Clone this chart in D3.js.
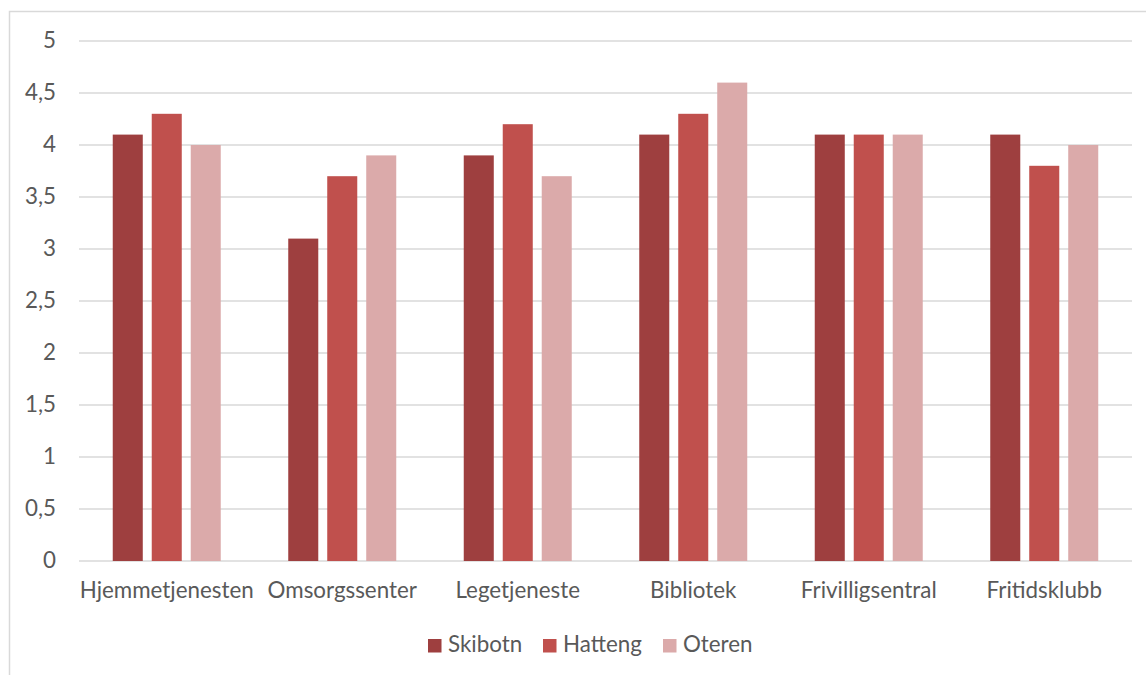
<!DOCTYPE html>
<html><head><meta charset="utf-8">
<script src="https://cdn.jsdelivr.net/npm/d3@7/dist/d3.min.js"></script>
<style>body{margin:0;background:#fff;} svg{display:block;}</style>
</head><body>
<svg id="c" width="1146" height="675"></svg>
<script>
const categories = ["Hjemmetjenesten","Omsorgssenter","Legetjeneste","Bibliotek","Frivilligsentral","Fritidsklubb"];
const seriesNames = ["Skibotn","Hatteng","Oteren"];
const skibotn = [4.1, 3.1, 3.9, 4.1, 4.1, 4.1];
const hatteng = [4.3, 3.7, 4.2, 4.3, 4.1, 3.8];
const oteren  = [4.0, 3.9, 3.7, 4.6, 4.1, 4.0];
const yTicks = [0,0.5,1,1.5,2,2.5,3,3.5,4,4.5,5];
const colors = ["#9E3F3F","#C0504D","#DBAAAA"];
const seriesValues = [skibotn, hatteng, oteren];

const svg = d3.select("#c");
const font = "Lato, 'Open Sans', sans-serif";

// fit font size so that the first category label matches the reference width
const probe = svg.append("text").attr("font-family",font).attr("font-size",100).text(categories[0]);
const w100 = probe.node().getComputedTextLength();
probe.remove();
const fs = Math.min(24, 100*174/w100);

svg.append("path").attr("d","M9.5,675 L9.5,11.5 L1146,11.5").attr("fill","none").attr("stroke","#d9d9d9").attr("stroke-width",1.5);

const L=79, R=1132, T=41, B=561;
const x0 = d3.scaleBand().domain(categories).range([L,R]).padding(0);
const x1 = d3.scaleBand().domain(seriesNames).range([0,108]).paddingInner(0.23).paddingOuter(0);
const y = d3.scaleLinear().domain([0,5]).range([B,T]);

const g = svg.append("g");
g.selectAll("line.grid").data(yTicks).join("line")
  .attr("x1",L).attr("x2",R).attr("y1",d=>y(d)).attr("y2",d=>y(d))
  .attr("stroke","#d9d9d9").attr("stroke-width",1.3);

const fmt = d => String(d).replace(".", ",");
g.selectAll("text.yt").data(yTicks).join("text")
  .attr("x",56).attr("y",d=>y(d)+7).attr("text-anchor","end")
  .attr("font-family",font).attr("font-size",fs).attr("fill","#595959").text(fmt);

const groups = g.selectAll("g.cat").data(categories).join("g")
  .attr("transform",d=>`translate(${x0(d)+x0.bandwidth()/2-54},0)`);
groups.each(function(c,i){
  d3.select(this).selectAll("rect").data(seriesNames.map((s,j)=>({s,v:seriesValues[j][i],j}))).join("rect")
    .attr("x",d=>x1(d.s)).attr("width",x1.bandwidth())
    .attr("y",d=>y(d.v)).attr("height",d=>y(0)-y(d.v))
    .attr("fill",d=>colors[d.j]);
});

g.selectAll("text.xt").data(categories).join("text")
  .attr("x",d=>x0(d)+x0.bandwidth()/2).attr("y",598).attr("text-anchor","middle")
  .attr("font-family",font).attr("font-size",fs).attr("fill","#595959").text(d=>d);

// legend
const legX = [428,543,663];
const leg = svg.append("g");
seriesNames.forEach((s,j)=>{
  leg.append("rect").attr("x",legX[j]).attr("y",639).attr("width",13.5).attr("height",13.5).attr("fill",colors[j]);
  leg.append("text").attr("x",legX[j]+20).attr("y",652).attr("font-family",font).attr("font-size",fs).attr("fill","#595959").text(s);
});
</script>
</body></html>
